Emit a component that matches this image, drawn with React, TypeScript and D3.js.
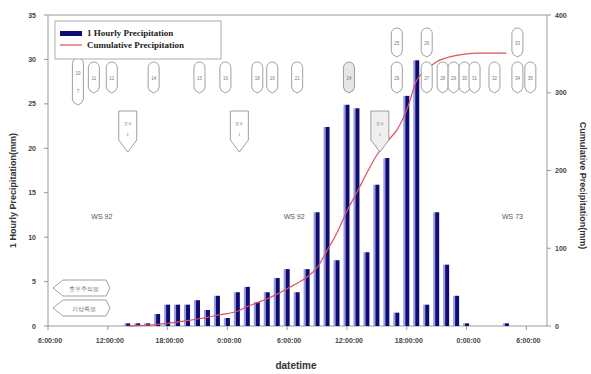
import React from 'react';
import * as d3 from 'd3';

// hours since the first axis tick (6:00:00)
const hours = [8,9,10,11,12,13,14,15,16,17,18,19,20,21,22,23,24,25,26,27,28,29,30,31,32,33,34,35,36,37,38,39,40,41,42,43,44,45,46];
const hourlyPrecip = [0.3,0.3,0.3,1.35,2.4,2.4,2.4,2.9,1.8,3.4,0.9,3.8,4.4,2.7,3.8,5.4,6.4,3.8,6.4,12.8,22.4,7.4,24.9,24.5,8.3,15.9,18.9,1.5,25.9,29.9,2.4,12.8,6.9,3.4,0.3,0,0,0,0.3];
const cumulativePrecip = [0,0.5,1,2,3.5,5,7,9,11,14,16,19,25,30,35,41,48,55,63,75,97,120,148,172,197,220,237,252,278,316,330,340,345,348,350,351,351,351,351];

const xTickHours = [0,6,12,18,24,30,36,42,48];
const xTickLabels = ['6:00:00','12:00:00','18:00:00','0:00:00','6:00:00','12:00:00','18:00:00','0:00:00','6:00:00'];
const leftTicks = [0,5,10,15,20,25,30,35];
const rightTicks = [0,100,200,300,400];

// annotation callouts (hour positions)
const lowerPillHours = [4.6,6.4,10.6,15.2,17.8,21.0,22.5,25.0,30.2,35.0,38.0,39.6,40.7,41.8,42.8,44.8,47.1,48.4];
const lowerPillLabels = ['11','12','14','15','16','18','19','21','24','26','27','28','29','30','31','32','34','35'];
const upperPillHours = [35.0,38.0,47.1];
const upperPillLabels = ['25','26','33'];
const tallPillHours = [3.0];
const downArrowHours = [8.0,19.2,33.3];
const downArrowLabels = ['호우','호우','호우'];
const midLabels = ['WS 92','WS 92','WS 73'];
const midLabelHours = [5.4,24.7,46.6];
const leftCallouts = ['호우주의보','기상특보'];

const W = 591, H = 374;
const L = 48, R = 547, T = 15, B = 326;

export default function App() {
  const x = d3.scaleLinear().domain([0, 50.07]).range([L, R]);
  const yL = d3.scaleLinear().domain([0, 35]).range([B, T]);
  const yR = d3.scaleLinear().domain([0, 400]).range([B, T]);
  const line = d3.line<number>()
    .x((_, i) => x(hours[i]))
    .y((d) => yR(d))
    .curve(d3.curveMonotoneX);

  const sans = 'Liberation Sans, Arial, sans-serif';
  const serif = 'Liberation Serif, Times New Roman, serif';
  const grey = '#9a9a9a';

  const pill = (cx: number, top: number, bot: number) => {
    const r = 5.5;
    return `M${cx - r},${top + r} A${r},${r} 0 0 1 ${cx + r},${top + r} L${cx + r},${bot - 6} Q${cx + r},${bot - 2} ${cx},${bot} Q${cx - r},${bot - 2} ${cx - r},${bot - 6} Z`;
  };
  const downArrow = (cx: number, top: number, bot: number) => {
    const r = 9;
    return `M${cx - r},${top} L${cx + r},${top} L${cx + r},${bot - 12} L${cx},${bot} L${cx - r},${bot - 12} Z`;
  };
  const leftArrow = (x0: number, x1: number, y0: number, y1: number) => {
    const m = (y0 + y1) / 2;
    return `M${x0},${m} L${x0 + 10},${y0} L${x1},${y0} L${x1 + 4},${m} L${x1},${y1} L${x0 + 10},${y1} Z`;
  };

  return (
    <svg width={W} height={H} style={{ position: 'absolute', left: 0, top: 0, background: '#fff' }}>
      <rect width={W} height={H} fill="#fff" />
      {/* frame */}
      <line x1={L} x2={R} y1={T} y2={T} stroke={grey} strokeWidth={1} />
      <line x1={L} x2={L} y1={T} y2={B} stroke={grey} strokeWidth={1} />
      <line x1={R} x2={R} y1={T} y2={B} stroke={grey} strokeWidth={1} />
      <line x1={L} x2={R} y1={B} y2={B} stroke={grey} strokeWidth={1} />

      {/* left ticks */}
      {leftTicks.map((t) => (
        <g key={'l' + t}>
          <line x1={L - 4} x2={L} y1={yL(t)} y2={yL(t)} stroke={grey} />
          <text x={L - 12} y={yL(t) + 2.5} fontSize={7} fontFamily={sans} fontWeight="bold" fill="#444" textAnchor="end">{t}</text>
        </g>
      ))}
      {/* right ticks */}
      {rightTicks.map((t) => (
        <g key={'r' + t}>
          <line x1={R} x2={R + 4} y1={yR(t)} y2={yR(t)} stroke={grey} />
          <text x={R + 8} y={yR(t) + 2.5} fontSize={7} fontFamily={sans} fontWeight="bold" fill="#444">{t}</text>
        </g>
      ))}
      {/* x ticks */}
      {xTickHours.map((h, i) => (
        <g key={'x' + i}>
          <line x1={x(h)} x2={x(h)} y1={B} y2={B + 4} stroke={grey} />
          <text x={x(h) + 2} y={B + 17} fontSize={7} fontFamily={sans} fontWeight="bold" fill="#444" textAnchor="middle">{xTickLabels[i]}</text>
        </g>
      ))}

      {/* mid labels */}
      {midLabels.map((s, i) => (
        <text key={'m' + i} x={x(midLabelHours[i])} y={219} fontSize={7} fontFamily={sans} fill="#555" textAnchor="middle">{s}</text>
      ))}

      {/* bars */}
      {hours.map((h, i) => {
        const v = hourlyPrecip[i];
        if (v <= 0) return null;
        const cx = x(h);
        const top = yL(v);
        return (
          <g key={'b' + h}>
            <rect x={cx - 3.5} y={top} width={2} height={B - top} fill="#9a9ae6" />
            <rect x={cx - 1.5} y={top} width={4} height={B - top} fill="#0c0c72" />
          </g>
        );
      })}

      {/* cumulative line */}
      <path d={line(cumulativePrecip) || ''} fill="none" stroke="#e0505a" strokeWidth={1.2} />

      {/* callouts */}
      {tallPillHours.map((h, i) => (
        <g key={'tp' + i}>
          <path d={pill(x(h), 58, 105)} fill="#fff" stroke="#888" strokeWidth={0.8} />
          <text x={x(h)} y={75} fontSize={4.5} fontFamily={sans} fill="#777" textAnchor="middle">10</text>
          <text x={x(h)} y={93} fontSize={4.5} fontFamily={sans} fill="#777" textAnchor="middle">7</text>
        </g>
      ))}
      {lowerPillHours.map((h, i) => (
        <g key={'lp' + i}>
          <path d={pill(x(h), 62, 93)} fill={i === 8 ? '#e6e6e6' : '#fff'} stroke="#888" strokeWidth={0.8} />
          <text x={x(h)} y={80} fontSize={4.5} fontFamily={sans} fill="#777" textAnchor="middle">{lowerPillLabels[i]}</text>
        </g>
      ))}
      {upperPillHours.map((h, i) => (
        <g key={'up' + i}>
          <path d={pill(x(h), 28, 57)} fill="#fff" stroke="#888" strokeWidth={0.8} />
          <text x={x(h)} y={45} fontSize={4.5} fontFamily={sans} fill="#777" textAnchor="middle">{upperPillLabels[i]}</text>
        </g>
      ))}
      {downArrowHours.map((h, i) => (
        <g key={'da' + i}>
          <path d={downArrow(x(h), 111, 152)} fill={i === 2 ? '#efefef' : '#fff'} stroke="#888" strokeWidth={0.8} />
          <text x={x(h)} y={125} fontSize={4} fontFamily={sans} fill="#777" textAnchor="middle">{downArrowLabels[i]}</text>
          <text x={x(h)} y={136} fontSize={4} fontFamily={sans} fill="#777" textAnchor="middle">1</text>
        </g>
      ))}
      {leftCallouts.map((s, i) => (
        <g key={'lc' + i}>
          <path d={leftArrow(53, 106, 280 + i * 20, 296 + i * 20)} fill="#fff" stroke="#888" strokeWidth={0.8} />
          <text x={84} y={291 + i * 20} fontSize={5.5} fontFamily={sans} fill="#666" textAnchor="middle">{s}</text>
        </g>
      ))}

      {/* legend */}
      <rect x={55} y={21} width={166} height={38} fill="#fff" stroke="#999" strokeWidth={0.8} />
      <rect x={60} y={31} width={22} height={5} fill="#0c0c72" />
      <line x1={60} x2={82} y1={45} y2={45} stroke="#e0505a" strokeWidth={1.2} />
      <text x={87} y={36} fontSize={9} fontFamily={serif} fontWeight="bold" fill="#222">1 Hourly Precipitation</text>
      <text x={87} y={48} fontSize={9} fontFamily={serif} fontWeight="bold" fill="#222">Cumulative Precipitation</text>

      {/* axis titles */}
      <text transform={`translate(16,${(T + B) / 2 + 20}) rotate(-90)`} fontSize={9} fontFamily={sans} fontWeight="bold" fill="#333" textAnchor="middle">1 Hourly Precipitation(mm)</text>
      <text transform={`translate(580,${(T + B) / 2 + 15}) rotate(90)`} fontSize={9} fontFamily={sans} fontWeight="bold" fill="#333" textAnchor="middle">Cumulative Precipitation(mm)</text>
      <text x={296} y={369} fontSize={10} fontFamily={sans} fontWeight="bold" fill="#333" textAnchor="middle">datetime</text>
    </svg>
  );
}
